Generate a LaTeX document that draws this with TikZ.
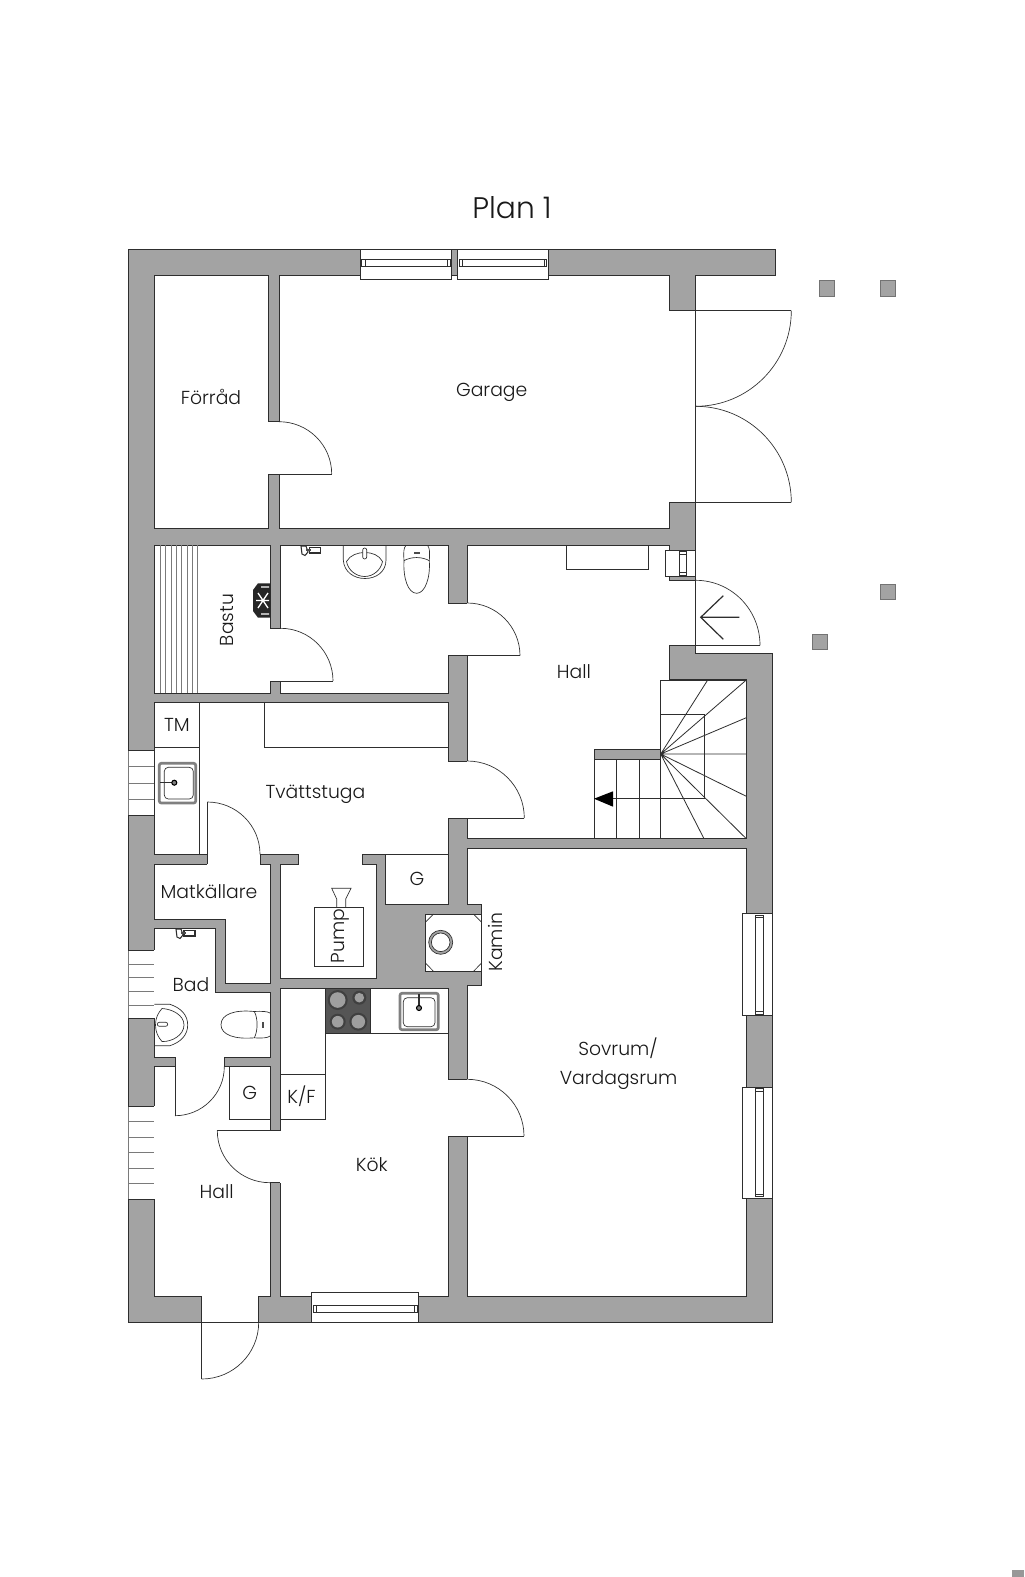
\documentclass[tikz,border=0pt]{standalone}
\usepackage{fontspec}
\setmainfont{Poppins Light}
\usetikzlibrary{calc}
\definecolor{wallgray}{HTML}{A3A3A3}
\definecolor{ink}{HTML}{2E2E2E}
\definecolor{stovegray}{HTML}{555555}
\definecolor{barcol}{HTML}{7A7A7A}
\tikzset{
  ln/.style={draw=ink,line width=.6pt,line join=miter},
  thin ln/.style={draw=ink,line width=.5pt},
  wall/.style={fill=wallgray,ln},
  room/.style={fill=white,ln},
  post/.style={fill=wallgray,draw=gray!90!black,line width=.5pt},
  lbl/.style={inner sep=0pt,text height=9.9pt,text depth=0pt,font=\fontsize{14.1}{17}\selectfont,text=black!90},
  ttl/.style={inner sep=0pt,text height=15.6pt,text depth=0pt,font=\fontsize{22.3}{26}\selectfont,text=black!90},
  win/.style={fill=white,ln},
  glass/.style={fill=white,thin ln},
  bar/.style={draw=barcol,line width=.6pt}
}
\newcommand\qarc[3]{\draw[thin ln] (#1) .. controls ($(#1)!.5523!(#2)$) and ($(#3)!.5523!(#2)$) .. (#3);}
% opening in an upright wall: x1,y1,x2,y2, widened to take out the wall faces
\newcommand\vgap[4]{\fill[white] (#1-1,#2) rectangle (#3+1,#4);}
% opening in a level wall
\newcommand\hgap[4]{\fill[white] (#1,#2-1) rectangle (#3,#4+1);}
\begin{document}
\begin{tikzpicture}[x=.75pt,y=-.75pt]
\useasboundingbox (0,0) rectangle (1024,1577);
\fill[white] (0,0) rectangle (1024,1577);
% outer mass
\path[wall] (128.3,249.3) -- (775.7,249.3) -- (775.7,275.7) -- (695.7,275.7) -- (695.7,645.3) -- (695.7,653.7) -- (772.7,653.7) -- (772.7,1322.3) -- (128.3,1322.3) -- cycle;
% rooms
\path[room] (154.3,275.7) rectangle (268.3,528.3);
\path[room] (279,275.7) -- (669.3,275.7) -- (669.3,310.7) -- (695.7,310.7) -- (695.7,502.3) -- (669.3,502.3) -- (669.3,528.3) -- (279,528.3) -- cycle;
\path[room] (154.3,545.3) rectangle (270,693.3);
\path[room] (280.7,545.3) rectangle (448.3,693.3);
\path[room] (467.3,545.3) -- (669.3,545.3) -- (669.3,580.3) -- (695.7,580.3) -- (695.7,645.3) -- (669.3,645.3) -- (669.3,679.7) -- (746.3,679.7) -- (746.3,838.7) -- (467.3,838.7) -- cycle;
\path[room] (154.3,702.3) -- (448.3,702.3) -- (448.3,854.3) -- (362.3,854.3) -- (362.3,864.3) -- (376,864.3) -- (376,978.3) -- (280,978.3) -- (280,864.3) -- (298.7,864.3) -- (298.7,854.3) -- (154.3,854.3) -- cycle;
\path[room] (385.7,854.3) rectangle (448.3,904.3);
\path[room] (154.3,864.3) -- (270,864.3) -- (270,983.3) -- (225,983.3) -- (225,919) -- (154.3,919) -- cycle;
\path[room] (154.3,928.3) -- (215.7,928.3) -- (215.7,992.3) -- (270,992.3) -- (270,1057) -- (154.3,1057) -- cycle;
\path[room] (154.3,1066.7) -- (175,1066.7) -- (175,1057) -- (224.3,1057) -- (224.3,1066.7) -- (270,1066.7) -- (270,1296) -- (258.7,1296) -- (258.7,1322.3) -- (201.7,1322.3) -- (201.7,1296) -- (154.3,1296) -- cycle;
\path[room] (280,988) rectangle (448.3,1296);
\path[room] (467.3,848) -- (746.3,848) -- (746.3,1296) -- (467.3,1296) -- (467.3,985) -- (481.3,985) -- (481.3,904.3) -- (467.3,904.3) -- cycle;
% doors
\vgap{268.3}{421.7}{279}{474}
\draw[ln] (268.3,421.7) -- (279,421.7) (268.3,474) -- (331.7,474);
\qarc{279,421.7}{331.7,421.7}{331.7,474}
\vgap{270}{628.3}{280.7}{681}
\draw[ln] (270,628.3) -- (280.7,628.3) (270,681) -- (333,681);
\qarc{280.7,628.3}{333,628.3}{333,681}
\vgap{448.3}{603}{467.3}{655.7}
\draw[ln] (448.3,603) -- (467.3,603) (448.3,655.7) -- (520,655.7);
\qarc{467.3,603}{520,603}{520,655.7}
\vgap{448.3}{761}{467.3}{818}
\draw[ln] (448.3,761) -- (467.3,761) (448.3,818) -- (524.3,818);
\qarc{467.3,761}{524.3,761}{524.3,818}
\hgap{207.3}{854.3}{260}{864.3}
\draw[ln] (207.3,864.3) -- (207.3,802) (260,854.3) -- (260,864.3);
\qarc{207.3,802}{260,802}{260,854.3}
\hgap{175}{1057}{224.3}{1066.7}
\draw[ln] (175,1057) -- (175,1115.7) (224.3,1057) -- (224.3,1066.7);
\qarc{224.3,1066.7}{224.3,1115.7}{175,1115.7}
\vgap{270}{1130.7}{280}{1182.7}
\draw[ln] (280,1130.7) -- (217.3,1130.7) (270,1182.7) -- (280,1182.7);
\qarc{217.3,1130.7}{217.3,1182.7}{270,1182.7}
\vgap{448.3}{1079.3}{467.3}{1136}
\draw[ln] (448.3,1079.3) -- (467.3,1079.3) (448.3,1136) -- (524,1136);
\qarc{467.3,1079.3}{524,1079.3}{524,1136}
\draw[thin ln] (201.7,1322.3) -- (201.7,1379);
\qarc{258.7,1322.3}{258.7,1379}{201.7,1379}
\draw[thin ln] (695.7,310.7) -- (791.3,310.7) (695.7,502.3) -- (791.3,502.3);
\qarc{791.3,310.7}{791.3,406.3}{695.7,406.3}
\qarc{695.7,406.3}{791.3,406.3}{791.3,502.3}
\draw[thin ln] (695.7,645.3) -- (760,645.3);
\qarc{695.7,580.3}{760,580.3}{760,645.3}
\draw[line width=.9pt,draw=ink] (739.3,617.3) -- (700.7,617.3) (723.3,595.7) -- (700.7,617.3) -- (723.3,639.3);
% windows top
\path[win] (360,249.3) rectangle (451.7,279.3);
\path[glass] (361.7,259.3) rectangle (450,266.7);
\draw[thin ln] (365,259.3) -- (365,266.7) (447,259.3) -- (447,266.7);
\path[win] (457.3,249.3) rectangle (548.3,279.3);
\path[glass] (459,259.3) rectangle (546.7,266.7);
\draw[thin ln] (462,259.3) -- (462,266.7) (544,259.3) -- (544,266.7);
% small window
\path[win] (665.3,550) rectangle (695.7,576.7);
\path[glass] (679,551.7) rectangle (686,575);
\draw[thin ln] (679,554) -- (686,554) (679,572.7) -- (686,572.7);
% right windows
\path[win] (742.3,913.3) rectangle (772.3,1015.6);
\path[glass] (755.7,915) rectangle (763,1014);
\draw[thin ln] (755.7,917.5) -- (763,917.5) (755.7,1011.5) -- (763,1011.5);
\path[win] (742.3,1087) rectangle (772.3,1198);
\path[glass] (755.7,1088.7) rectangle (763,1196.4);
\draw[thin ln] (755.7,1091) -- (763,1091) (755.7,1194) -- (763,1194);
% bottom window
\path[win] (311.7,1292.3) rectangle (418.7,1322.3);
\path[glass] (313.3,1305.7) rectangle (417,1312.7);
\draw[thin ln] (316,1305.7) -- (316,1312.7) (414.5,1305.7) -- (414.5,1312.7);
% left windows
\fill[white] (128.3,750.7) rectangle (154.3,815.7);
\draw[draw=barcol,line width=.4pt] (128.3,750.7) -- (128.3,815.7);
\draw[ln] (128.3,750.7) -- (154.3,750.7) (128.3,815.7) -- (154.3,815.7);
\draw[bar] (128.3,766.7) -- (154.3,766.7) (128.3,783.3) -- (154.3,783.3) (128.3,799.3) -- (154.3,799.3);
\draw[ln] (154.3,750.7) -- (154.3,815.7);
\fill[white] (128.3,950.3) rectangle (155.2,1018.3);
\draw[draw=barcol,line width=.4pt] (128.3,950.3) -- (128.3,1018.3);
\draw[ln] (128.3,950.3) -- (154.3,950.3) (128.3,1018.3) -- (154.3,1018.3);
\draw[bar] (128.3,964) -- (154.3,964) (128.3,977.3) -- (154.3,977.3) (128.3,991.7) -- (154.3,991.7) (128.3,1005) -- (154.3,1005);
\fill[white] (128.3,1106.3) rectangle (155.2,1199.3);
\draw[draw=barcol,line width=.4pt] (128.3,1106.3) -- (128.3,1199.3);
\draw[ln] (128.3,1106.3) -- (154.3,1106.3) (128.3,1199.3) -- (154.3,1199.3);
\draw[bar] (128.3,1121.7) -- (154.3,1121.7) (128.3,1137.3) -- (154.3,1137.3) (128.3,1152.7) -- (154.3,1152.7) (128.3,1168.3) -- (154.3,1168.3) (128.3,1183.7) -- (154.3,1183.7);
% bastu benches
\draw[bar,line width=.5pt] (160,545.3) -- (160,693.3) (165,545.3) -- (165,693.3) (171,545.3) -- (171,693.3) (176,545.3) -- (176,693.3) (181.7,545.3) -- (181.7,693.3) (187.3,545.3) -- (187.3,693.3) (192.7,545.3) -- (192.7,693.3) (197.7,545.3) -- (197.7,693.3);
% sauna heater
\fill[black!85] (258,583.3) -- (270,583.3) -- (270,617.7) -- (258,617.7) -- (253,611) -- (253,590) -- cycle;
\draw[white,line width=1pt] (258,593) -- (268,608) (268,593) -- (258,608) (256,600.5) -- (269,600.5) (261,587) -- (269,587) (261,614) -- (269,614);
% built-ins
\draw[ln] (566.3,545.3) -- (566.3,569.7) -- (648.7,569.7) -- (648.7,545.3);
\draw[ln] (199.7,702.3) -- (199.7,854.3) (154.3,747.3) -- (199.7,747.3);
\draw[ln] (264.7,702.3) -- (264.7,747.3) -- (448.3,747.3);
\draw[ln] (229.3,1066.7) -- (229.3,1119.7) -- (270,1119.7);
\draw[ln] (325.3,988) -- (325.3,1119.3) -- (280,1119.3) (280,1074) -- (325.3,1074) (325.3,1033.3) -- (448.3,1033.3);
% stair
\draw[ln] (660.7,749.3) -- (660.7,680) -- (746.3,680);
\draw[ln] (660.7,714.3) -- (704,714.3) -- (704,798.7) -- (600,798.7);
\draw[ln] (594,838.7) -- (594,759) (616.3,838.7) -- (616.3,759) (639,838.7) -- (639,759) (660.7,838.7) -- (660.7,759);
\path[wall] (594,749.3) rectangle (660.7,759);
\draw[ln] (660.7,754) -- (707.7,680) (660.7,754) -- (746.3,680) (660.7,754) -- (746.3,717.7) (660.7,754) -- (746.3,754) (660.7,754) -- (746.3,796.3) (660.7,754) -- (746.3,838.7) (660.7,754) -- (704,838.7);
\fill[black] (594,798.7) -- (613,791.3) -- (613,806.7) -- cycle;
% kamin
\path[fill=white,ln] (425.7,914) rectangle (481.3,971.3);
\draw[thin ln] (425.7,922) -- (433.5,914) (473.5,914) -- (481.3,922) (425.7,963.3) -- (433.5,971.3) (473.5,971.3) -- (481.3,963.3);
\path[fill=wallgray,draw=ink,line width=.5pt] (440.7,942.3) circle[radius=12];
\path[fill=white,draw=ink,line width=.5pt] (440.7,942.3) circle[radius=9.3];
% pump
\path[fill=white,ln] (314.3,907.3) rectangle (363.7,966.7);
\draw[thin ln] (336.7,907.3) -- (336.7,899) -- (331.7,888.3) -- (351,888.3) -- (345.7,899) -- (345.7,907.3);
% stove
\path[fill=stovegray,draw=ink,line width=.4pt] (325.3,988) rectangle (370,1033.3);
\foreach \cx/\cy/\r in {337.7/1000/10, 359.3/997.7/7, 337.7/1021.7/8, 358.3/1021.7/9}{
  \fill[black!75] (\cx,\cy) circle[radius=\r];
  \fill[gray!75] (\cx,\cy) circle[radius=\r-2.2];
}
% kitchen sink
\path[fill=white,draw=gray,line width=2pt,rounded corners=1.5pt] (400,993.3) rectangle (438.3,1029.7);
\path[fill=white,thin ln,rounded corners=3pt] (403.3,997.7) rectangle (435,1026.7);
\draw[draw=ink,line width=1pt] (419,994) -- (419,1008);
\path[fill=gray,draw=black,line width=.8pt] (419,1008) circle[radius=2.5];
% laundry sink
\path[fill=white,draw=gray,line width=2pt,rounded corners=1.5pt] (159.3,763.3) rectangle (195.7,803);
\path[fill=white,thin ln,rounded corners=3pt] (164.3,767.3) rectangle (193.3,799);
\draw[draw=ink,line width=1pt] (160.3,782.7) -- (174.3,782.7);
\path[fill=gray,draw=black,line width=.8pt] (174.3,782.7) circle[radius=2.5];
% WC sink
\draw[thin ln] (343.3,545.3) -- (343.3,560) .. controls (344,572) and (354,578.5) .. (365,578.5) .. controls (376,578.5) and (386,572) .. (386,560) -- (386,545.3);
\draw[thin ln] (346.5,561.5) .. controls (350,555) and (358,552.5) .. (364.7,552.5) .. controls (372,552.5) and (379,555) .. (382.5,561.5) .. controls (381,570) and (373,576.5) .. (364.7,576.5) .. controls (356,576.5) and (348,570) .. (346.5,561.5) -- cycle;
\path[fill=white,thin ln,rounded corners=1.5pt] (362.7,548) rectangle (366.7,559);
% WC toilet
\draw[thin ln] (406,545.3) .. controls (403.5,548) and (403.5,552) .. (404,560.7) .. controls (403,578) and (408,593.3) .. (416.7,593.3) .. controls (425,593.3) and (430.5,578) .. (429.3,560.7) .. controls (429.8,552) and (429.8,548) .. (427.5,545.3);
\draw[thin ln] (404,560.7) .. controls (411,556.5) and (422,556.5) .. (429.3,560.7);
\path[fill=black!70] (413.7,551.5) rectangle (419.7,553.5);
% WC faucet
\path[fill=white,draw=ink,line width=.8pt] (309.5,547.5) rectangle (320.5,553);
\path[fill=white,draw=ink,line width=.8pt] (301,546) -- (306,546) -- (308,552) -- (305,555.5) -- (302,554) -- cycle;
\fill[black!70] (306,549) rectangle (311,551);
% Bad sink
\draw[thin ln] (154.3,1004.3) -- (170,1004.3) .. controls (181,1008) and (187.7,1015) .. (187.7,1025) .. controls (187.7,1035) and (181,1042) .. (170,1045.7) -- (154.3,1045.7);
\draw[thin ln] (162,1008.5) .. controls (172,1009) and (184,1015) .. (184,1025) .. controls (184,1035) and (172,1042) .. (162,1041.5) .. controls (158,1037) and (155.5,1032) .. (155.5,1025) .. controls (155.5,1018) and (158,1013) .. (162,1008.5) -- cycle;
\path[fill=white,thin ln,rounded corners=1.5pt] (157.3,1022.3) rectangle (167.7,1026.3);
% Bad toilet
\draw[thin ln] (270,1013) .. controls (268,1011.5) and (262,1011) .. (254.3,1011.5) .. controls (235,1009.5) and (221,1014) .. (221,1024.7) .. controls (221,1035) and (235,1039.5) .. (254.3,1037.8) .. controls (262,1038.3) and (268,1038) .. (270,1036);
\draw[thin ln] (254.3,1011.5) .. controls (258,1018) and (258,1031) .. (254.3,1037.8);
\path[fill=black!70] (262.3,1021.5) rectangle (264.3,1027.5);
% Bad faucet
\path[fill=white,draw=ink,line width=.8pt] (184,930.5) rectangle (195,936);
\path[fill=white,draw=ink,line width=.8pt] (176,929) -- (181,929) -- (183,935) -- (180,938.5) -- (177,937) -- cycle;
\fill[black!70] (181,932) rectangle (186,934);
% posts
\path[post] (819.3,280.7) rectangle (834.3,296);
\path[post] (880.3,280.7) rectangle (895.3,296);
\path[post] (880.3,584.7) rectangle (895.3,599.7);
\path[post] (812.3,634.3) rectangle (827,649.3);
\fill[wallgray!70!gray] (1012,1570) rectangle (1024,1577);
% labels
\node[ttl] (title) at (512,208) {Plan 1};
\node[lbl] (forrad) at (211,398) {Förråd};
\node[lbl] (garage) at (491.7,390) {Garage};
\node[lbl,rotate=90] (bastu) at (226.7,620) {Bastu};
\node[lbl] (hallupper) at (574,671.7) {Hall};
\node[lbl] (tm) at (177,725) {TM};
\node[lbl] (tvatt) at (315.5,791.7) {Tvättstuga};
\node[lbl] (mat) at (209,891.7) {Matkällare};
\node[lbl] (g1) at (417,879) {G};
\node[lbl,rotate=90] (pump) at (338,936) {Pump};
\node[lbl,rotate=90] (kamin) at (496,942) {Kamin};
\node[lbl] (bad) at (191,985) {Bad};
\node[lbl] (g2) at (249.7,1093) {G};
\node[lbl] (kf) at (301.5,1096.7) {K/F};
\node[lbl] (kok) at (371.8,1165) {Kök};
\node[lbl] (halllower) at (216.7,1191.7) {Hall};
\node[lbl] (sovrum) at (618,1049) {Sovrum/};
\node[lbl] (vardag) at (618.5,1077.5) {Vardagsrum};
\end{tikzpicture}
\end{document}
